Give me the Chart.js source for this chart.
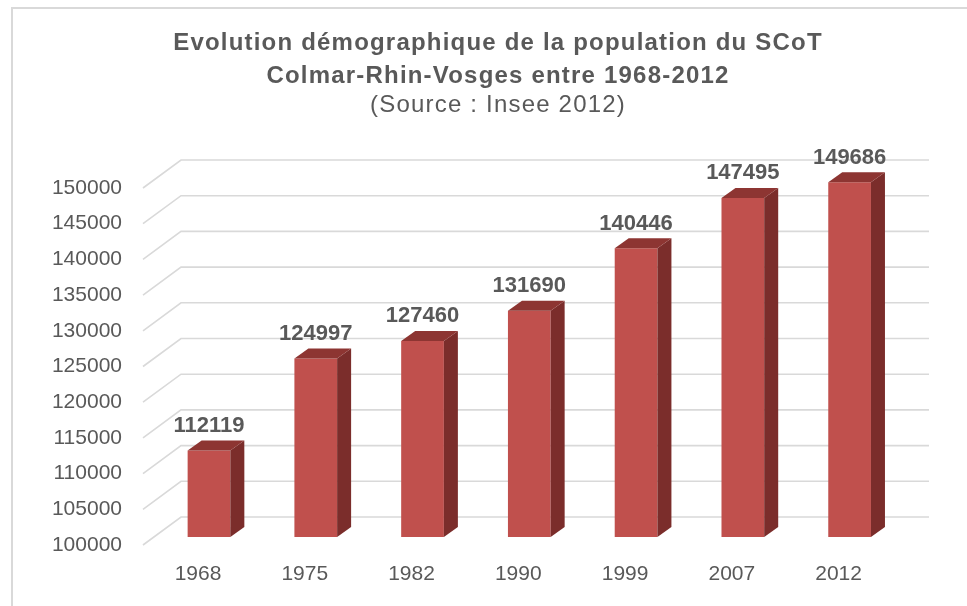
<!DOCTYPE html>
<html><head><meta charset="utf-8">
<script src="https://cdn.jsdelivr.net/npm/chart.js@4"></script>
<style>
html,body{margin:0;padding:0;background:#fff;overflow:hidden}
#wrap{position:relative;width:967px;height:606px;overflow:hidden}
#frame{position:absolute;left:11px;top:7px;width:1000px;height:700px;border-left:2px solid #d9d9d9;border-top:2px solid #d9d9d9;box-sizing:border-box}
canvas{position:absolute;left:0;top:0}
</style></head>
<body><div id="wrap"><div id="frame"></div><canvas id="c" width="967" height="606"></canvas></div>
<script>
const categories = ['1968','1975','1982','1990','1999','2007','2012'];
const population = [112119,124997,127460,131690,140446,147495,149686];
const yTickValues = [100000,105000,110000,115000,120000,125000,130000,135000,140000,145000,150000];
const titleLines = ['Evolution démographique de la population du SCoT','Colmar-Rhin-Vosges entre 1968-2012'];
const subtitleText = '(Source : Insee 2012)';

const FONT = "'Liberation Sans', Arial, sans-serif";
const TXT = '#595959';
const DX = 14, DY = 10;          // bar depth
const WALL_DX = 38, WALL_DY = 28; // wall depth

const titlePlugin = {
  id: 'titleText',
  afterDraw(chart) {
    const {ctx} = chart;
    ctx.save();
    ctx.fillStyle = TXT;
    ctx.textAlign = 'center';
    ctx.textBaseline = 'alphabetic';
    if ('letterSpacing' in ctx) ctx.letterSpacing = '1.2px';
    const cx = 498;
    ctx.font = 'bold 24px ' + FONT;
    ctx.fillText(titleLines[0], cx, 50);
    ctx.fillText(titleLines[1], cx, 83);
    ctx.font = 'normal 24px ' + FONT;
    ctx.fillText(subtitleText, cx, 112);
    ctx.restore();
  }
};

const depth3d = {
  id: 'depth3d',
  beforeDatasetsDraw(chart) {
    const {ctx, chartArea, scales: {y}} = chart;
    ctx.save();
    ctx.strokeStyle = '#d9d9d9';
    ctx.lineWidth = 1.6;
    const xFront = chartArea.left - 12.6, xBack = xFront + WALL_DX, xRight = chartArea.right + 26;
    y.ticks.forEach(t => {
      const py = y.getPixelForValue(t.value);
      ctx.beginPath();
      ctx.moveTo(xFront, py + 8);
      ctx.lineTo(xBack, py + 8 - WALL_DY);
      ctx.lineTo(xRight, py + 8 - WALL_DY);
      ctx.stroke();
    });
    ctx.restore();
  },
  afterDatasetsDraw(chart) {
    const {ctx, scales: {y: ys}} = chart;
    const meta = chart.getDatasetMeta(0);
    const base = ys.getPixelForValue(ys.min);
    ctx.save();
    meta.data.forEach((bar, i) => {
      const {x, y, width} = bar.getProps(['x', 'y', 'width'], true);
      const l = x - width / 2, r = x + width / 2;
      ctx.fillStyle = '#7b2d2b';
      ctx.beginPath();
      ctx.moveTo(r, y); ctx.lineTo(r + DX, y - DY); ctx.lineTo(r + DX, base - DY); ctx.lineTo(r, base);
      ctx.closePath(); ctx.fill();
      ctx.fillStyle = '#8d3532';
      ctx.beginPath();
      ctx.moveTo(l, y); ctx.lineTo(l + DX, y - DY); ctx.lineTo(r + DX, y - DY); ctx.lineTo(r, y);
      ctx.closePath(); ctx.fill();
      ctx.fillStyle = TXT;
      ctx.font = 'bold 22px ' + FONT;
      ctx.textAlign = 'center';
      ctx.textBaseline = 'middle';
      ctx.fillText(String(population[i]), x, y - 24.5);
    });
    ctx.restore();
  }
};

new Chart(document.getElementById('c'), {
  type: 'bar',
  data: {
    labels: categories,
    datasets: [{
      data: population,
      backgroundColor: '#c0504d',
      borderWidth: 0,
      barPercentage: 0.4,
      categoryPercentage: 1.0
    }]
  },
  options: {
    responsive: false,
    animation: false,
    layout: {padding: {left: 0, right: 64, top: 180, bottom: 0}},
    plugins: {
      legend: {display: false},
      tooltip: {enabled: false},
      title: {display: false}
    },
    scales: {
      x: {
        grid: {display: false, drawTicks: false},
        border: {display: false},
        ticks: {color: TXT, font: {family: FONT, size: 21}, padding: 25, labelOffset: -11},
        afterFit: s => { s.height = 69; }
      },
      y: {
        min: 100000, max: 150000,
        grid: {display: false, drawTicks: false},
        border: {display: false},
        afterBuildTicks: s => { s.ticks = yTickValues.map(v => ({value: v})); },
        ticks: {color: TXT, font: {family: FONT, size: 21}, padding: 33.6, labelOffset: 8,
                callback: v => String(v)},
        afterFit: s => { s.width = 155.6; }
      }
    }
  },
  plugins: [depth3d, titlePlugin]
});
</script>
</body></html>
